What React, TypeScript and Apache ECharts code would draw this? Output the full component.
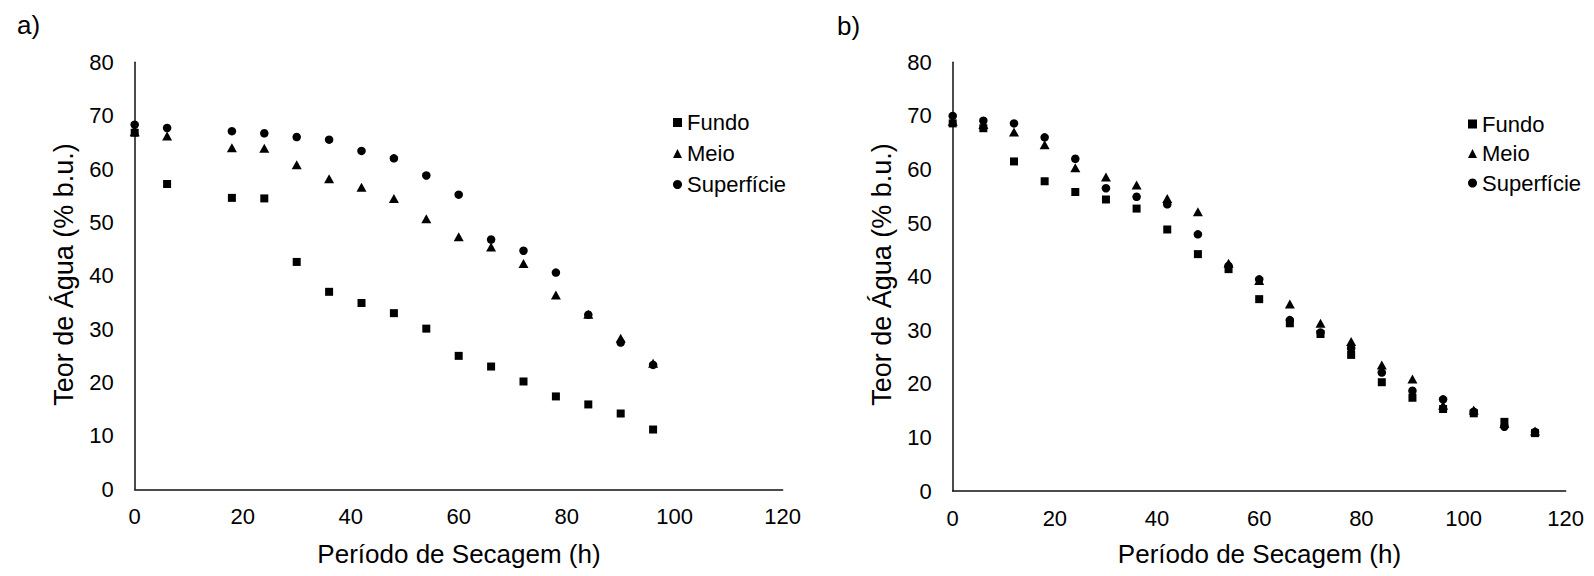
import React, { useEffect, useRef } from "react";
import * as echarts from "echarts";

const FONT = "'Liberation Sans', Arial, sans-serif";

// Chart a)
const hoursA = [0, 6, 18, 24, 30, 36, 42, 48, 54, 60, 66, 72, 78, 84, 90, 96];
const fundoA = [66.8, 57.2, 54.6, 54.5, 42.6, 37.0, 34.9, 33.0, 30.1, 25.0, 23.0, 20.2, 17.4, 15.9, 14.2, 11.2];
const meioA = [67.0, 66.2, 64.0, 63.9, 60.8, 58.2, 56.6, 54.5, 50.7, 47.3, 45.4, 42.3, 36.4, 32.8, 28.3, 23.6];
const superficieA = [68.3, 67.7, 67.1, 66.7, 66.0, 65.5, 63.4, 62.0, 58.8, 55.2, 46.8, 44.7, 40.6, 32.7, 27.5, 23.3];

// Chart b)
const hoursB = [0, 6, 12, 18, 24, 30, 36, 42, 48, 54, 60, 66, 72, 78, 84, 90, 96, 102, 108, 114];
const fundoB = [68.6, 67.7, 61.5, 57.8, 55.8, 54.4, 52.7, 48.8, 44.2, 41.4, 35.8, 31.3, 29.3, 25.4, 20.3, 17.4, 15.3, 14.5, 12.9, 10.8];
const meioB = [69.0, 68.4, 67.0, 64.6, 60.3, 58.6, 57.1, 54.6, 52.1, 42.5, 39.3, 34.9, 31.3, 27.9, 23.5, 20.9, 16.0, 15.1, 12.6, 11.2];
const superficieB = [70.0, 69.1, 68.6, 66.0, 62.0, 56.5, 54.9, 53.5, 47.9, 42.0, 39.5, 31.9, 29.6, 26.6, 22.1, 18.7, 17.1, 14.8, 12.0, 11.0];

const seriesNames = ["Fundo", "Meio", "Superfície"];
const xTitle = "Período de Secagem (h)";
const yTitle = "Teor de Água (% b.u.)";
const panelLabels = ["a)", "b)"];

const zip = (xs: number[], ys: number[]) => xs.map((x, i) => [x, ys[i]]);

export default function App() {
  const ref = useRef<HTMLDivElement>(null);
  useEffect(() => {
    if (!ref.current) return;
    const chart = echarts.init(ref.current, undefined, { renderer: "svg" });

    const axisLine = { show: true, onZero: false, lineStyle: { color: "#111", width: 1.5 } };
    const label = (margin: number) => ({ fontSize: 22, color: "#000", fontFamily: FONT, margin });

    const grids = [
      { left: 134.7, top: 62.3, width: 648, height: 427 },
      { left: 952.7, top: 62.3, width: 613, height: 428.7 },
    ];

    const symbols = [
      { symbol: "rect", symbolSize: 8 },
      { symbol: "triangle", symbolSize: [10, 9] },
      { symbol: "circle", symbolSize: 8.5 },
    ];
    const dataA = [fundoA, meioA, superficieA];
    const dataB = [fundoB, meioB, superficieB];

    const series: any[] = [];
    [0, 1].forEach((g) => {
      const hrs = g === 0 ? hoursA : hoursB;
      const sets = g === 0 ? dataA : dataB;
      sets.forEach((vals, k) => {
        series.push({
          type: "scatter",
          name: seriesNames[k],
          xAxisIndex: g,
          yAxisIndex: g,
          symbol: symbols[k].symbol,
          symbolSize: symbols[k].symbolSize,
          itemStyle: { color: "#000", opacity: 1 },
          emphasis: { disabled: true },
          data: zip(hrs, vals),
        });
      });
    });

    const legendCommon = {
      orient: "vertical",
      data: seriesNames,
      itemWidth: 9,
      itemHeight: 9,
      padding: 0,
      selectedMode: false,
      itemStyle: { opacity: 1 },
      textStyle: { fontSize: 22, color: "#000", fontFamily: FONT, lineHeight: 22 },
    };

    const titleCenters = [
      { xt: [459, 554], yt: [63.5, 274.5], pl: [17, 25] },
      { xt: [1259.5, 554], yt: [881.7, 274.5], pl: [837, 26] },
    ];

    const graphic: any[] = [];
    titleCenters.forEach((c, i) => {
      graphic.push({
        type: "text",
        x: c.xt[0],
        y: c.xt[1],
        style: { text: xTitle, fontSize: 26, fontFamily: FONT, fill: "#000", align: "center", verticalAlign: "middle" },
      });
      graphic.push({
        type: "text",
        x: c.yt[0],
        y: c.yt[1],
        rotation: Math.PI / 2,
        style: { text: yTitle, fontSize: 27, fontFamily: FONT, fill: "#000", align: "center", verticalAlign: "middle" },
      });
      graphic.push({
        type: "text",
        x: c.pl[0],
        y: c.pl[1],
        style: { text: panelLabels[i], fontSize: 26, fontFamily: FONT, fill: "#000", align: "left", verticalAlign: "middle" },
      });
    });

    chart.setOption({
      animation: false,
      backgroundColor: "#fff",
      grid: grids,
      xAxis: [0, 1].map((g) => ({
        gridIndex: g,
        type: "value",
        min: 0,
        max: 120,
        interval: 20,
        axisLine,
        axisTick: { show: false },
        splitLine: { show: false },
        axisLabel: label(16),
      })),
      yAxis: [0, 1].map((g) => ({
        gridIndex: g,
        type: "value",
        min: 0,
        max: 80,
        interval: 10,
        axisLine,
        axisTick: { show: false },
        splitLine: { show: false },
        axisLabel: label(21),
      })),
      legend: [
        { ...legendCommon, left: 673, top: 111.5, itemGap: 9 },
        { ...legendCommon, left: 1468, top: 113, itemGap: 7.5 },
      ],
      graphic,
      series,
    });

    return () => chart.dispose();
  }, []);

  return (
    <div
      ref={ref}
      style={{ position: "fixed", left: 0, top: 0, width: 1594, height: 576, background: "#fff" }}
    />
  );
}
